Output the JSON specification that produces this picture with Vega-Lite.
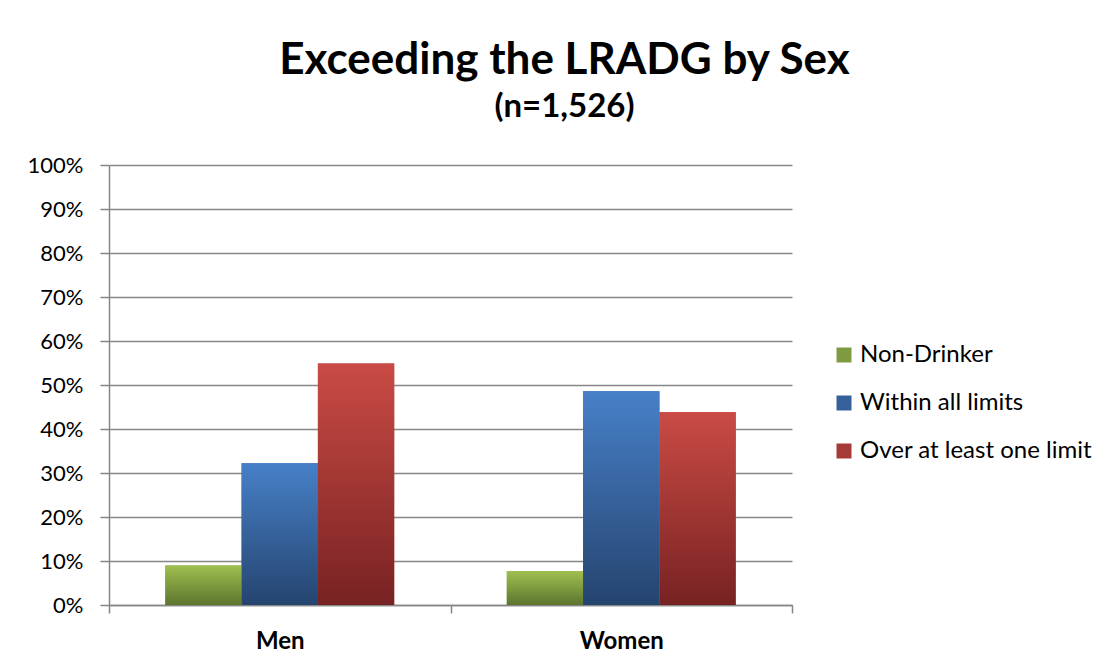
{
  "$schema": "https://vega.github.io/schema/vega-lite/v6.json",
  "width": 683,
  "height": 440,
  "autosize": {"type": "none"},
  "padding": {"left": 109, "top": 165, "right": 318, "bottom": 62},
  "background": "white",
  "title": {
    "text": "Exceeding the LRADG by Sex",
    "subtitle": "(n=1,526)",
    "anchor": "middle",
    "dx": 114,
    "offset": 30,
    "font": "Lato",
    "fontSize": 44,
    "fontWeight": "bold",
    "color": "#000000",
    "subtitleFont": "Lato",
    "subtitleFontSize": 33,
    "subtitleFontWeight": "bold",
    "subtitleColor": "#000000",
    "subtitlePadding": 8
  },
  "data": {
    "values": [
      {"sex": "Men", "status": "Non-Drinker", "pct": 0.090},
      {"sex": "Men", "status": "Within all limits", "pct": 0.322},
      {"sex": "Men", "status": "Over at least one limit", "pct": 0.549},
      {"sex": "Women", "status": "Non-Drinker", "pct": 0.077},
      {"sex": "Women", "status": "Within all limits", "pct": 0.486},
      {"sex": "Women", "status": "Over at least one limit", "pct": 0.438}
    ]
  },
  "encoding": {
    "x": {
      "field": "sex",
      "type": "nominal",
      "sort": ["Men", "Women"],
      "title": null,
      "scale": {"paddingInner": 0, "paddingOuter": 0},
      "axis": {
        "labelAngle": 0,
        "labelFont": "Lato",
        "labelFontSize": 24,
        "labelFontWeight": "bold",
        "labelColor": "#000000",
        "labelPadding": 16,
        "tickBand": "extent",
        "tickSize": 8,
        "tickColor": "#868686",
        "tickWidth": 1.5,
        "domainColor": "#868686",
        "domainWidth": 1.5,
        "grid": false
      }
    },
    "xOffset": {
      "field": "status",
      "type": "nominal",
      "sort": ["Non-Drinker", "Within all limits", "Over at least one limit"],
      "scale": {"paddingInner": 0, "paddingOuter": 0.738}
    },
    "y": {
      "field": "pct",
      "type": "quantitative",
      "title": null,
      "scale": {"domain": [0, 1], "nice": false},
      "axis": {
        "format": ".0%",
        "values": [0, 0.1, 0.2, 0.3, 0.4, 0.5, 0.6, 0.7, 0.8, 0.9, 1],
        "labelFont": "Lato",
        "labelFontSize": 22,
        "labelColor": "#000000",
        "labelPadding": 17,
        "tickSize": 9,
        "tickColor": "#868686",
        "tickWidth": 1.5,
        "domainColor": "#868686",
        "domainWidth": 1.5,
        "grid": true,
        "gridColor": "#868686",
        "gridWidth": 1.5
      }
    }
  },
  "layer": [
    {
      "mark": {"type": "bar"},
      "encoding": {
        "color": {
          "field": "status",
          "type": "nominal",
          "sort": ["Non-Drinker", "Within all limits", "Over at least one limit"],
          "scale": {
            "domain": ["Non-Drinker", "Within all limits", "Over at least one limit"],
            "range": ["#7f9b40", "#36609a", "#a63a36"]
          },
          "legend": {
            "title": null,
            "orient": "none",
            "legendX": 723,
            "legendY": 178,
            "symbolType": "square",
            "symbolSize": 225,
            "symbolStrokeWidth": 0,
            "labelFont": "Lato",
            "labelFontSize": 24,
            "labelColor": "#000000",
            "labelOffset": 4,
            "labelLimit": 400,
            "rowPadding": 24,
            "symbolOpacity": 1
          }
        }
      }
    },
    {
      "mark": {"type": "bar"},
      "encoding": {
        "fill": {
          "condition": [
            {
              "test": "datum.status === 'Non-Drinker'",
              "value": {"gradient": "linear", "x1": 0, "y1": 0, "x2": 0, "y2": 1, "stops": [{"offset": 0, "color": "#9fc050"}, {"offset": 1, "color": "#5d752e"}]}
            },
            {
              "test": "datum.status === 'Within all limits'",
              "value": {"gradient": "linear", "x1": 0, "y1": 0, "x2": 0, "y2": 1, "stops": [{"offset": 0, "color": "#4780c8"}, {"offset": 1, "color": "#25446f"}]}
            }
          ],
          "value": {"gradient": "linear", "x1": 0, "y1": 0, "x2": 0, "y2": 1, "stops": [{"offset": 0, "color": "#ca4b45"}, {"offset": 1, "color": "#772222"}]}
        }
      }
    }
  ],
  "config": {
    "view": {"stroke": null}
  }
}
